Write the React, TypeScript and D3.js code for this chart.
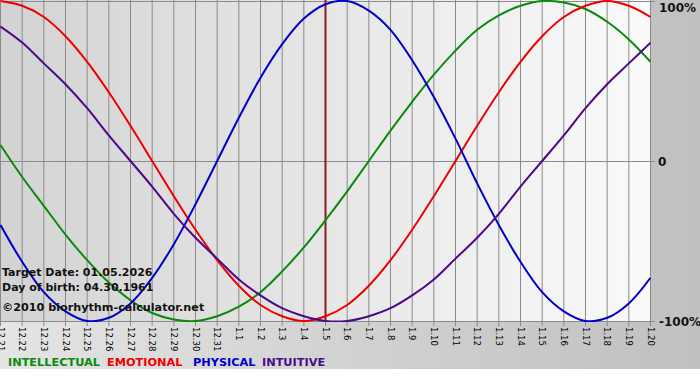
import React from "react";
import * as d3 from "d3";

const dayLabels = [
  "12.21","12.22","12.23","12.24","12.25","12.26","12.27","12.28","12.29","12.30","12.31",
  "1.1","1.2","1.3","1.4","1.5","1.6","1.7","1.8","1.9","1.10",
  "1.11","1.12","1.13","1.14","1.15","1.16","1.17","1.18","1.19","1.20",
];

const intellectual = [0.10,-0.10,-0.28,-0.46,-0.62,-0.76,-0.87,-0.95,-0.99,-1.00,-0.97,-0.91,-0.82,-0.69,-0.54,-0.37,-0.19,0,0.19,0.37,0.54,0.69,0.82,0.91,0.97,1.00,0.99,0.95,0.87,0.76,0.62];
const emotional = [1.00,0.97,0.90,0.78,0.62,0.43,0.22,0,-0.22,-0.43,-0.62,-0.78,-0.90,-0.97,-1.00,-0.97,-0.90,-0.78,-0.62,-0.43,-0.22,0,0.22,0.43,0.62,0.78,0.90,0.97,1.00,0.97,0.90];
const physical = [-0.40,-0.63,-0.82,-0.94,-1.00,-0.98,-0.89,-0.73,-0.52,-0.27,0,0.27,0.52,0.73,0.89,0.98,1.00,0.94,0.82,0.63,0.40,0.14,-0.14,-0.40,-0.63,-0.82,-0.94,-1.00,-0.98,-0.89,-0.73];
const intuitive = [0.84,0.74,0.61,0.48,0.33,0.16,0,-0.16,-0.33,-0.48,-0.61,-0.74,-0.84,-0.92,-0.97,-1.00,-1.00,-0.97,-0.92,-0.84,-0.74,-0.61,-0.48,-0.33,-0.16,0,0.16,0.33,0.48,0.61,0.74];

const yTicks = [1, 0, -1];
const yTickLabels = ["100%", "0", "-100%"];
const targetIndex = 15;

const series = [
  { name: "INTELLECTUAL", values: intellectual, color: "#0a8a0a", lx: 8 },
  { name: "EMOTIONAL", values: emotional, color: "#ee0000", lx: 107 },
  { name: "PHYSICAL", values: physical, color: "#0000cc", lx: 193 },
  { name: "INTUITIVE", values: intuitive, color: "#4b0a8a", lx: 262 },
];

export default function App() {
  const W = 700, H = 380;
  const x = d3.scaleLinear().domain([0, dayLabels.length - 1]).range([0.5, 650.5]);
  const y = d3.scaleLinear().domain([-1, 1]).range([321, 1]);
  const line = d3
    .line<number>()
    .x((_, i) => x(i))
    .y((d) => y(d))
    .curve(d3.curveCatmullRom);
  const font = "'DejaVu Sans', Verdana, sans-serif";
  return (
    <div style={{ position: "fixed", left: 0, top: 0 }}>
      <svg width={W} height={H} style={{ display: "block" }}>
        <defs>
          <linearGradient id="bg" x1="0" y1="0" x2="1" y2="0">
            <stop offset="0" stopColor="#e4e4e4" />
            <stop offset="1" stopColor="#c0c0c0" />
          </linearGradient>
          <linearGradient id="plotbg" x1="0" y1="0" x2="1" y2="0">
            <stop offset="0" stopColor="#d3d3d3" />
            <stop offset="1" stopColor="#fafafa" />
          </linearGradient>
          <clipPath id="clip">
            <rect x={0} y={0} width={651} height={322} />
          </clipPath>
        </defs>
        <rect x={0} y={0} width={W} height={H} fill="#ffffff" />
        <rect x={0} y={0} width={W} height={369} fill="url(#bg)" />
        <rect x={0} y={0} width={651} height={321} fill="url(#plotbg)" />
        {dayLabels.map((_, i) => (
          <line key={"g" + i} x1={x(i)} x2={x(i)} y1={0} y2={326} stroke="#8a8a8a" strokeWidth={1} />
        ))}
        {yTicks.map((t) => (
          <line key={"h" + t} x1={0} x2={655} y1={Math.round(y(t)) + 0.5} y2={Math.round(y(t)) + 0.5} stroke="#8a8a8a" strokeWidth={1} />
        ))}
        <line x1={x(targetIndex)} x2={x(targetIndex)} y1={0} y2={321} stroke="#8b1c1c" strokeWidth={2} />
        <g clipPath="url(#clip)">
          {series.map((s) => (
            <path key={s.name} d={line(s.values) || ""} fill="none" stroke={s.color} strokeWidth={2} />
          ))}
        </g>
        {dayLabels.map((d, i) => (
          <text key={"t" + d} transform={`translate(${x(i) - 3},${327}) rotate(90)`} fontFamily={font} fontSize={8.5} fill="#000">
            {d}
          </text>
        ))}
        {yTicks.map((t, k) => (
          <text key={"y" + t} x={k === 1 ? 658 : 659} y={y(t) + (k === 0 ? 11 : 5)} fontFamily={font} fontSize={12} fontWeight="bold" fill="#111">
            {yTickLabels[k]}
          </text>
        ))}
        <text x={2} y={276} fontFamily={font} fontSize={11} fontWeight="bold" fill="#111">Target Date: 01.05.2026</text>
        <text x={2} y={291} fontFamily={font} fontSize={11} fontWeight="bold" fill="#111">Day of birth: 04.30.1961</text>
        <text x={2} y={311} fontFamily={font} fontSize={11.2} fontWeight="bold" fill="#111">©2010 biorhythm-calculator.net</text>
        {series.map((s) => (
          <text key={"l" + s.name} x={s.lx} y={366} fontFamily={font} fontSize={11.3} fontWeight="bold" fill={s.color}>
            {s.name}
          </text>
        ))}
      </svg>
    </div>
  );
}
